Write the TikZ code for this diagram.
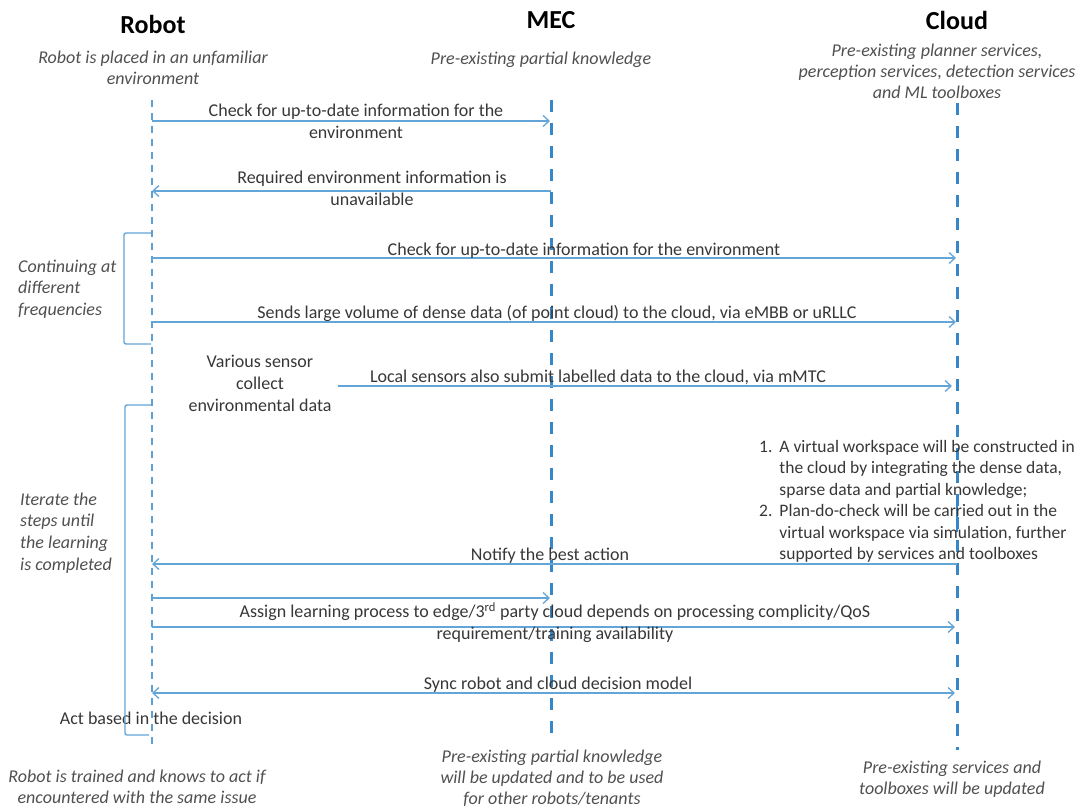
\documentclass[tikz,border=0pt]{standalone}
\usepackage{fontspec}
\setmainfont{Carlito}
\usetikzlibrary{arrows.meta}
\definecolor{lifeblue}{RGB}{55,135,200}
\definecolor{lifelight}{RGB}{95,160,212}
\definecolor{msgblue}{RGB}{100,165,215}
\definecolor{bodytxt}{RGB}{55,55,55}
\definecolor{notetxt}{RGB}{80,80,80}
\begin{document}
\begin{tikzpicture}[x=1pt,y=-1pt,
  header/.style={font=\fontsize{26}{30}\selectfont\bfseries, text=black, inner sep=0},
  note/.style={font=\fontsize{18}{21}\selectfont\itshape, text=notetxt, align=center, inner sep=0},
  sidenote/.style={font=\fontsize{18}{21.7}\selectfont\itshape, text=notetxt, align=left, inner sep=0},
  lbl/.style={font=\fontsize{18}{22}\selectfont, text=bodytxt, align=center, inner sep=0},
  listtxt/.style={font=\fontsize{17.5}{21.5}\selectfont, text=bodytxt, inner sep=0},
  lifethin/.style={draw=lifelight, line width=1.5pt, dash pattern=on 7pt off 6pt},
  lifethick/.style={draw=lifeblue, line width=3pt, dash pattern=on 12pt off 11pt},
  msg/.style={draw=msgblue, line width=1.3pt, -{Straight Barb[length=6pt,width=11pt]}},
  msgboth/.style={draw=msgblue, line width=1.3pt, {Straight Barb[length=6pt,width=11pt]}-{Straight Barb[length=6pt,width=11pt]}},
  bracket/.style={draw=msgblue, line width=1.4pt, rounded corners=2pt},
]
\useasboundingbox (0,0) rectangle (1080,807);

% ---- participants ----
\node[header] (robot) at (153,24) {Robot};
\node[header] (mec)   at (551,20) {MEC};
\node[header] (cloud) at (957,20) {Cloud};

\node[note] (robotpre) at (153,68) {Robot is placed in an unfamiliar\\environment};
\node[note] (mecpre)   at (541,60) {Pre-existing partial knowledge};
\node[note] (cloudpre) at (937,71) {Pre-existing planner services,\\perception services, detection services\\and ML toolboxes};

% ---- lifelines ----
\coordinate (R0) at (152,100);  \coordinate (R1) at (152,746);
\coordinate (M0) at (551,100);  \coordinate (M1) at (551,740);
\coordinate (C0) at (957,103);  \coordinate (C1) at (957,750);
\draw[lifethin]  (R0) -- (R1);
\draw[lifethick] (M0) -- (M1);
\draw[lifethick] (C0) -- (C1);
\coordinate (Ca) at (957,498); \coordinate (Cb) at (957,532);
\draw[draw=lifeblue, line width=2pt] (Ca) -- (Cb);

% ---- message end points ----
\coordinate (r1) at (152,121);  \coordinate (m1) at (550,121);
\coordinate (r2) at (152,191);  \coordinate (m2) at (551,191);
\coordinate (r3) at (152,258);  \coordinate (c3) at (956,258);
\coordinate (r4) at (152,322);  \coordinate (c4) at (956,322);
\coordinate (s5) at (338,386);  \coordinate (c5) at (952,386);
\coordinate (r7) at (152,564);  \coordinate (c7) at (957,564);
\coordinate (r8) at (152,598);  \coordinate (m8) at (550,598);
\coordinate (r9) at (152,627);  \coordinate (c9) at (955,627);
\coordinate (r10) at (152,693); \coordinate (c10) at (955,693);

% ---- messages ----
\draw[msg] (r1) -- (m1);
\node[lbl] (lab1) at (356,121.5) {Check for up-to-date information for the\\environment};

\draw[msg] (m2) -- (r2);
\node[lbl] (lab2) at (372,188.5) {Required environment information is\\unavailable};

\draw[msg] (r3) -- (c3);
\node[lbl, anchor=base] (lab3) at (584,255) {Check for up-to-date information for the environment};

\draw[msg] (r4) -- (c4);
\node[lbl, anchor=base] (lab4) at (557,318) {Sends large volume of dense data (of point cloud) to the cloud, via eMBB or uRLLC};

\node[lbl] (sensor) at (260,383) {Various sensor\\collect\\environmental data};
\draw[msg] (s5) -- (c5);
\node[lbl, anchor=base] (lab5) at (598,382) {Local sensors also submit labelled data to the cloud, via mMTC};

\node[listtxt, anchor=base west] (steps) at (759,452) {%
  \begin{tabular}[t]{@{}r@{\hspace{7pt}}l@{}}
  1. & A virtual workspace will be constructed in\\
     & the cloud by integrating the dense data,\\
     & sparse data and partial knowledge;\\
  2. & Plan-do-check will be carried out in the\\
     & virtual workspace via simulation, further\\
     & supported by services and toolboxes
  \end{tabular}};

\draw[msg] (c7) -- (r7);
\node[lbl, anchor=base] (lab7) at (550,560) {Notify the best action};

\draw[msg] (r8) -- (m8);
\draw[msg] (r9) -- (c9);
\node[lbl] (lab9) at (555,622.5) {Assign learning process to edge/3\textsuperscript{rd} party cloud depends on processing complicity/QoS\\requirement/training availability};

\draw[msgboth] (r10) -- (c10);
\node[lbl, anchor=base] (lab10) at (558,689) {Sync robot and cloud decision model};

\node[lbl] (act) at (151,718) {Act based in the decision};

% ---- loop brackets ----
\coordinate (b1a) at (151,233); \coordinate (b1b) at (124,233);
\coordinate (b1c) at (124,344); \coordinate (b1d) at (151,344);
\draw[bracket] (b1a) -- (b1b) -- (b1c) -- (b1d);
\node[sidenote, anchor=west] (loop1) at (18,289) {Continuing at\\different\\frequencies};

\coordinate (b2a) at (151,405); \coordinate (b2b) at (125,405);
\coordinate (b2c) at (125,735); \coordinate (b2d) at (149,735);
\draw[bracket] (b2a) -- (b2b) -- (b2c) -- (b2d);
\node[sidenote, anchor=west] (loop2) at (20,533) {Iterate the\\steps until\\the learning\\is completed};

% ---- outcomes ----
\node[note] (robotpost) at (137,787) {Robot is trained and knows to act if\\encountered with the same issue};
\node[note] (mecpost)   at (552,778) {Pre-existing partial knowledge\\will be updated and to be used\\for other robots/tenants};
\node[note] (cloudpost) at (952,779) {Pre-existing services and\\toolboxes will be updated};
\end{tikzpicture}
\end{document}
